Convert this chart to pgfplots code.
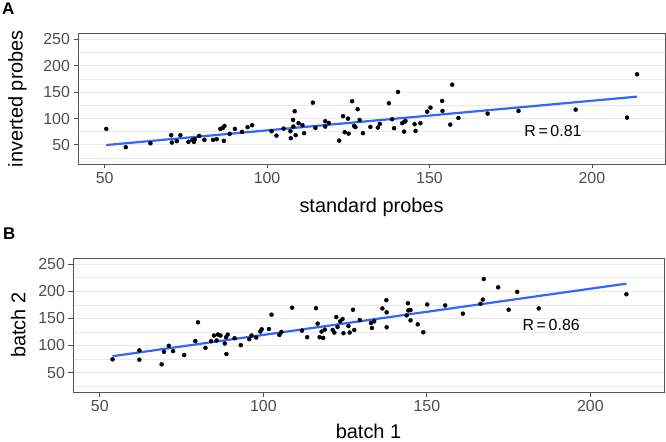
\documentclass[border=0pt]{standalone}
\usepackage{fontspec}
\setmainfont{Liberation Sans}
\usepackage{pgfplots}
\pgfplotsset{compat=1.18}

\definecolor{smoothc}{HTML}{3366FF}
\definecolor{gridc}{HTML}{EBEBEB}
\definecolor{tickc}{HTML}{4D4D4D}
\definecolor{borderc}{HTML}{555555}

\pgfplotstableread{
x y
50.5 80.3
56.5 45.6
64.1 53
70.5 68.4
70.7 54.4
72.2 57
73.3 68.4
75.8 55.7
77 59.5
77.5 55.7
77.8 60.8
79.1 67
80.7 59.5
83.4 59.5
84.5 60.8
85.6 80.3
86.4 82.2
86.9 86
86.7 57.6
88.5 70.8
90.1 80.3
92.3 74.6
94 83.5
95.4 87.3
101.4 76
102.9 67.6
105.1 80.9
107.2 76
107.3 62.7
108 97.3
108.5 113.8
108.1 84.7
108.8 68.4
109.7 91.1
110.9 87.3
111.4 72.2
114.1 130.1
114.9 82.2
117.9 94.9
117.9 84.7
119 91.7
122.2 58.1
123.4 104.4
123.9 74
124.9 99.8
125.1 71.4
126.2 132.8
126.8 86
127.2 83.5
127.9 117.6
128.5 97.3
129.5 72.2
131.8 84.1
134.1 82.8
134.7 89.8
137.5 129
138.5 98.7
139.1 81.6
140.3 150.4
141.6 91.1
142.2 93.6
142.2 75.2
142.6 95.5
145.4 89.2
145.7 76.5
147.2 91.1
149.3 113
150.3 120.6
153.9 133.3
154 114.4
156.4 88.4
157 164.2
158.9 101.1
167.9 109.3
177.4 114.4
195 116.9
210.8 101.7
213.9 183.9
}\dataA

\pgfplotstableread{
x y
53.9 74.5
62.1 91
62.1 73.8
68.9 65.3
69.6 88.4
71.1 99.4
72.4 89.7
75.8 82.4
79.2 108
80 142.7
82.3 95.7
84 108
84.9 118.4
85.7 109.2
86.1 120.2
86.9 118.4
88.2 103.7
88.6 115.3
89.1 120.2
88.7 84.2
91.2 113.4
93.1 100.6
95.7 111.6
96.4 118.4
97.8 114.7
99.1 125.7
99.5 129.9
101.7 130.4
102.5 156.8
104.9 119.5
105.5 125
108.8 169.6
111.8 127.5
113.4 115.3
116.1 168.8
116.6 140.3
117.2 115.3
117.8 125.7
118.3 114
118.8 129.3
121.2 128.6
121.7 123.9
122.3 152.4
122.7 134.1
123.5 144.5
124.2 148.7
124.5 122.6
126 135.9
126.4 123.9
127.4 165.9
127.8 128.6
129.5 146.9
132.9 141.4
133.2 132.3
133.9 144.5
136.4 168.3
137.6 183.5
137.7 161
137.7 133.5
143.8 155.5
144.2 178
144.3 164.6
145 165.2
145 146.3
147.2 139
148.9 124.4
150.1 175.6
155.6 173.8
161 158.6
166.4 176.9
167.1 184.7
167.4 222.6
171.8 207.2
175 165.9
177.6 198.8
184.2 168.3
211 194.4
}\dataB

\pgfplotsset{panel/.style={
  scale only axis,
  xmin=41.8, xmax=222.5, ymin=13.75, ymax=261.25,
  xtick={50,100,150,200}, ytick={50,100,150,200,250},
  minor ytick={25,75,125,175,225},
  ymajorgrids, yminorgrids,
  major grid style={gridc, line width=1.1bp},
  minor grid style={gridc, line width=0.6bp},
  axis line style={borderc, line width=0.8bp},
  tick align=outside,
  major tick length=4.5bp, minor tick length=0pt,
  tick style={tickc, line width=0.8bp},
  xtick pos=bottom, ytick pos=left,
  tick label style={font=\fontsize{16}{16}\selectfont, text=tickc},
  /pgf/number format/assume math mode=true,
  label style={font=\fontsize{20}{20}\selectfont},
  clip=false,
}}

\begin{document}
\begin{tikzpicture}
\path[use as bounding box] (0,0) rectangle (666bp,442bp);

\begin{axis}[panel,
  at={(78bp,278bp)}, anchor=south west,
  width=587bp, height=130.5bp,
  xlabel={standard probes}, ylabel={inverted probes},
  xlabel style={at={(axis description cs:0.5,-0.375)}, anchor=base, text depth=0pt},
  ylabel style={at={(axis description cs:-0.103,0.5)}, anchor=center, rotate=0},
]
\addplot[only marks, mark=*, mark size=2bp, black] table[x=x,y=y] {\dataA};
\addplot[smoothc, line width=2.2bp] coordinates {(50.5,49.7) (213.9,141.5)};
\node[font=\fontsize{16}{16}\selectfont, text=black] at (axis cs:188,76.5) {R\,=\,0.81};
\end{axis}

\begin{axis}[panel,
  at={(73bp,49.7bp)}, anchor=south west,
  width=591bp, height=134.3bp,
  xlabel={batch 1}, ylabel={batch 2},
  xlabel style={at={(axis description cs:0.5,-0.342)}, anchor=base, text depth=0pt, inner sep=0pt},
  ylabel style={at={(axis description cs:-0.0926,0.5)}, anchor=center},
]
\addplot[only marks, mark=*, mark size=2bp, black] table[x=x,y=y] {\dataB};
\addplot[smoothc, line width=2.2bp] coordinates {(53.9,80.3) (211,214)};
\node[font=\fontsize{16}{16}\selectfont, text=black] at (axis cs:188,137) {R\,=\,0.86};
\end{axis}

\node[anchor=north west, inner sep=0pt, font=\bfseries\fontsize{17}{17}\selectfont] at (2bp,439bp) {A};
\node[anchor=north west, inner sep=0pt, font=\bfseries\fontsize{17}{17}\selectfont] at (3bp,214bp) {B};
\end{tikzpicture}
\end{document}
